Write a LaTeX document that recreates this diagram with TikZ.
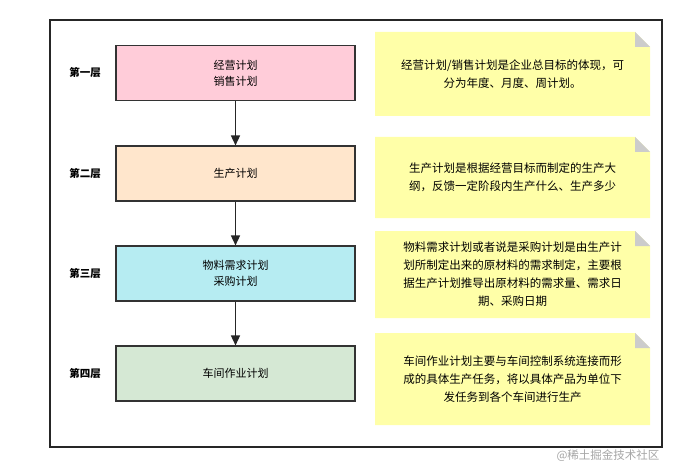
\documentclass[tikz,border=0pt]{standalone}
\usepackage{fontspec}
\usetikzlibrary{arrows.meta}
\newfontfamily\cjk{Noto Sans CJK SC}
\definecolor{cpink}{HTML}{FFCCD9}
\definecolor{corange}{HTML}{FFE6CC}
\definecolor{ccyan}{HTML}{B6ECF2}
\definecolor{cgreen}{HTML}{D5E8D4}
\definecolor{cnote}{HTML}{FFFFA8}
\begin{document}
\begin{tikzpicture}[x=1pt,y=-1pt,
  every node/.style={font=\cjk\fontsize{11}{16}\selectfont},
  stage/.style={draw=black!80,line width=1.1pt,minimum width=239pt,minimum height=55pt,align=center},
  lbl/.style={font=\cjk\bfseries\fontsize{10.5}{12}\selectfont},
  arr/.style={-{Triangle[length=10pt,width=9pt]},line width=1.5pt,black!85},
  notetxt/.style={align=center,text width=270pt,font=\cjk\fontsize{11.5}{18}\selectfont}]
\useasboundingbox (0,0) rectangle (687,473);
\fill[white] (0,0) rectangle (687,473);
\draw[line width=1.2pt,black!85] (50,20) rectangle (662,447);
\node[stage,fill=cpink] (s1) at (235.5,73) {经营计划\\销售计划};
\node[stage,fill=corange] (s2) at (235.5,173.5) {生产计划};
\node[stage,fill=ccyan] (s3) at (235.5,273.5) {物料需求计划\\采购计划};
\node[stage,fill=cgreen] (s4) at (235.5,373.5) {车间作业计划};
\draw[arr] (s1) -- (s2);
\draw[arr] (s2) -- (s3);
\draw[arr] (s3) -- (s4);
\node[lbl] (l1) at (85,73) {第一层};
\node[lbl] (l2) at (85,173.5) {第二层};
\node[lbl] (l3) at (85,273.5) {第三层};
\node[lbl] (l4) at (85,373.5) {第四层};
\foreach \t/\b/\n in {32/116/1,137/218/2,231/318/3,333/425/4}{
  \fill[cnote] (375,\t) -- (635,\t) -- (650,\t+15) -- (650,\b) -- (375,\b) -- cycle;
  \fill[black!20] (635,\t) -- (650,\t+15) -- (635,\t+15) -- cycle;
}
\node[notetxt] (n1) at (512.5,74) {经营计划/销售计划是企业总目标的体现，可\\分为年度、月度、周计划。};
\node[notetxt] (n2) at (512.5,177.5) {生产计划是根据经营目标而制定的生产大\\纲，反馈一定阶段内生产什么、生产多少};
\node[notetxt] (n3) at (512.5,274.5) {物料需求计划或者说是采购计划是由生产计\\划所制定出来的原材料的需求制定，主要根\\据生产计划推导出原材料的需求量、需求日\\期、采购日期};
\node[notetxt] (n4) at (512.5,379) {车间作业计划主要与车间控制系统连接而形\\成的具体生产任务，将以具体产品为单位下\\发任务到各个车间进行生产};
\node[font=\cjk\fontsize{11.5}{12}\selectfont,text=black!35] (wm) at (608,456) {@稀土掘金技术社区};
\end{tikzpicture}
\end{document}
